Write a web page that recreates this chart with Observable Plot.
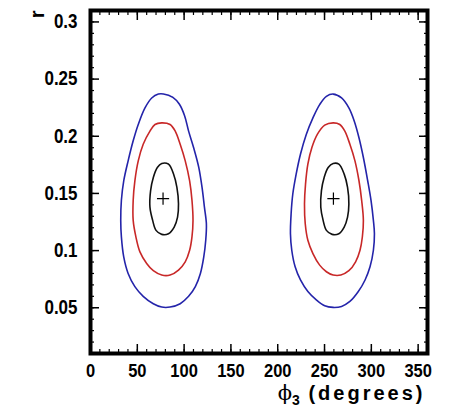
<!DOCTYPE html>
<html><head><meta charset="utf-8">
<script src="https://cdn.jsdelivr.net/npm/d3@7"></script>
<script src="https://cdn.jsdelivr.net/npm/@observablehq/plot@0.6"></script>
<style>body{margin:0;background:#fff}</style>
</head><body><div id="chart"></div>
<script>
const xTicks = [0, 50, 100, 150, 200, 250, 300, 350];
const yTicks = [0.05, 0.1, 0.15, 0.2, 0.25, 0.3];
const xLabelParts = ["\u03D5", "3", " (degrees)"];
const yLabel = "r";
const levels = ["outer", "middle", "inner"];
const levelColors = ["#2424aa", "#c82828", "#111111"];
const peakPhi = [77.5, 259.5];
const peakR = [0.1455, 0.1455];

const leftOuter = [[77.9,0.237],[88,0.234],[95,0.228],[100.5,0.218],[104.8,0.2045],[110.2,0.190],[115.6,0.173],[119.2,0.155],[121.7,0.138],[123.8,0.1235],[123.1,0.109],[121,0.0945],[117.4,0.080],[112,0.0685],[104.8,0.060],[95.8,0.0535],[85,0.0506],[76.1,0.0506],[67.1,0.0535],[56.3,0.060],[47.4,0.0685],[40.2,0.080],[35.5,0.0945],[33,0.112],[32.3,0.1264],[33,0.144],[35.5,0.161],[40.2,0.1785],[45.6,0.196],[51,0.2103],[58.2,0.2248],[65.4,0.2335],[72.5,0.2369]];
const leftMiddle = [[76.1,0.2117],[85,0.2103],[90.5,0.2045],[95.8,0.193],[101.2,0.1785],[105.9,0.161],[108.4,0.144],[109.5,0.1264],[108.4,0.112],[105.9,0.1003],[101.2,0.0902],[94,0.083],[85,0.0786],[76.1,0.0786],[67.1,0.0824],[60,0.0888],[52.8,0.0989],[48.5,0.112],[45.6,0.1264],[45.6,0.144],[47.4,0.161],[51,0.1785],[56.3,0.193],[63.5,0.2045],[68.9,0.2103]];
const leftInner = [[76.1,0.1762],[83.3,0.1756],[88.7,0.167],[92.3,0.1553],[94,0.1409],[93,0.1293],[89.4,0.1206],[83.3,0.1148],[76.1,0.1142],[70,0.1177],[66.4,0.1264],[63.5,0.138],[64.2,0.1524],[67.1,0.164],[71.4,0.1727]];

const rightOuter = [[259.2,0.2369],[268.2,0.2335],[276,0.2248],[281.8,0.2132],[286.8,0.1987],[291.5,0.1814],[296.1,0.1611],[299.7,0.1437],[302.2,0.1264],[303.3,0.1148],[302.2,0.1003],[298.6,0.0858],[293.3,0.0743],[286.1,0.0642],[277.1,0.0555],[268.2,0.0512],[259.2,0.0503],[250.2,0.0517],[241.2,0.0569],[232.2,0.0642],[224.3,0.0743],[218.6,0.0858],[215,0.1003],[213.6,0.1148],[214.3,0.1321],[216.1,0.1495],[219.7,0.1669],[224.3,0.1843],[230.5,0.2016],[237.6,0.2161],[244.8,0.2277],[252,0.2349]];
const rightMiddle = [[259.2,0.2117],[266.3,0.2103],[271.7,0.2045],[277.1,0.193],[282.5,0.1785],[286.8,0.1611],[289.7,0.1437],[291.5,0.1264],[290.4,0.1119],[287.9,0.1003],[283.2,0.0902],[276,0.0824],[267.4,0.0786],[259.2,0.0786],[252,0.0815],[244.8,0.0873],[237.6,0.0974],[232.2,0.109],[229.4,0.1235],[228.6,0.1408],[229.7,0.1582],[232.2,0.1756],[236.5,0.1901],[242.3,0.2016],[250.2,0.2097]];
const rightInner = [[259.2,0.1762],[265.3,0.1756],[271,0.1669],[274.6,0.1553],[276,0.1408],[274.6,0.1293],[271,0.1206],[265.3,0.1148],[258.1,0.1142],[252,0.1177],[248.5,0.1264],[246,0.1379],[246.7,0.1524],[249.6,0.164],[253.9,0.1727]];

const contours = [
  ["left", "outer", leftOuter], ["left", "middle", leftMiddle], ["left", "inner", leftInner],
  ["right", "outer", rightOuter], ["right", "middle", rightMiddle], ["right", "inner", rightInner]
];
const rows = contours.flatMap(([peak, level, pts]) => pts.map(([phi, r]) => ({peak, level, key: peak + level, phi, r})));
const peaks = peakPhi.map((phi, i) => ({phi, r: peakR[i]}));

const xMinor = d3.range(0, 361, 10);
const yMinor = d3.range(0.02, 0.311, 0.01).map(v => +v.toFixed(2));
const font = "Liberation Sans, Arial, sans-serif";

const chart = Plot.plot({
  width: 452, height: 412,
  marginLeft: 90, marginRight: 25, marginTop: 10, marginBottom: 59,
  style: {fontFamily: font, background: "#fff", color: "#000"},
  x: {domain: [0, 360]},
  y: {domain: [0.01, 0.31]},
  color: {domain: levels, range: levelColors},
  marks: [
    Plot.line(rows, {x: "phi", y: "r", z: "key", stroke: "level", curve: "catmull-rom-closed", strokeWidth: 1.6}),
    Plot.dot(peaks, {x: "phi", y: "r", symbol: "plus", r: 4, stroke: "#000", strokeWidth: 1.2}),
    Plot.axisX(xMinor, {anchor: "bottom", tickSize: -4, text: null, label: null, strokeWidth: 1.2}),
    Plot.axisX(xMinor, {anchor: "top", tickSize: -4, text: null, label: null, strokeWidth: 1.2}),
    Plot.axisX(xTicks, {anchor: "bottom", tickSize: -9, text: null, label: null, strokeWidth: 1.5}),
    Plot.axisX(xTicks, {anchor: "top", tickSize: -9, text: null, label: null, strokeWidth: 1.5}),
    Plot.axisX(xTicks, {anchor: "bottom", tickSize: 0, tickPadding: 10, label: null, fontSize: 16.5, fontWeight: "bold"}),
    Plot.axisY(yMinor, {anchor: "left", tickSize: -4, text: null, label: null, strokeWidth: 1.2}),
    Plot.axisY(yMinor, {anchor: "right", tickSize: -4, text: null, label: null, strokeWidth: 1.2}),
    Plot.axisY(yTicks, {anchor: "left", tickSize: -9, text: null, label: null, strokeWidth: 1.5}),
    Plot.axisY(yTicks, {anchor: "right", tickSize: -9, text: null, label: null, strokeWidth: 1.5}),
    Plot.axisY(yTicks, {anchor: "left", tickSize: 0, tickPadding: 13, label: null, tickFormat: d => String(d), fontSize: 17, fontWeight: "bold"}),
    Plot.frame({stroke: "#000", strokeWidth: 4}),
    Plot.text([xLabelParts.join("")], {frameAnchor: "bottom-right", textAnchor: "end", lineAnchor: "bottom", dx: -2, dy: 46, fontSize: 20, fontWeight: "bold"}),
    Plot.text([yLabel], {frameAnchor: "top-left", textAnchor: "end", rotate: -90, dx: -61, dy: 0, fontSize: 20, fontWeight: "bold"})
  ]
});

// make the tick labels a little taller, like the reference's narrow bold digits
d3.select(chart).selectAll("g[aria-label$='tick label'] text").each(function() {
  const tr = this.getAttribute("transform");
  if (tr) this.setAttribute("transform", tr + " scale(1,1.15)");
});

// rebuild the x-axis title with a subscript
d3.select(chart).selectAll("text").filter(function() { return this.textContent === xLabelParts.join(""); }).each(function() {
  const t = d3.select(this);
  t.text(null);
  t.append("tspan").attr("font-family", "DejaVu Serif, serif").attr("font-weight", "normal").attr("font-size", 21).text(xLabelParts[0]);
  t.append("tspan").attr("font-size", 14).attr("dy", 5).text(xLabelParts[1]);
  t.append("tspan").attr("dy", -5).attr("letter-spacing", 3).text(xLabelParts[2]);
});

document.getElementById("chart").appendChild(chart);
</script>
</body></html>
